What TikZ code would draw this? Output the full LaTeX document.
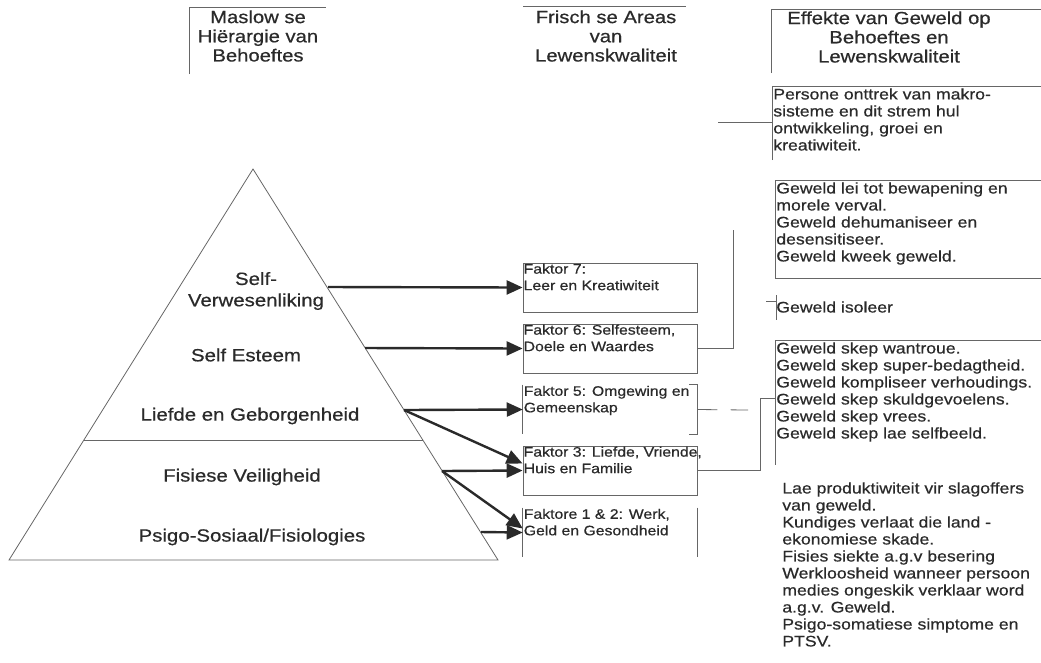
\documentclass[tikz,border=0pt]{standalone}
\usepackage{fontspec}
\setmainfont{Liberation Sans}[FakeStretch=1.15,FakeBold=0.6]
\usetikzlibrary{arrows.meta,calc}

\definecolor{ink}{HTML}{2A2A2A}
\definecolor{rulegray}{HTML}{666666}

\tikzset{
  hdr/.style={align=center, text=ink, inner sep=0pt, font=\fontsize{13.2}{14.4}\selectfont},
  lvl/.style={align=center, text=ink, inner sep=0pt, font=\fontsize{13.3}{16}\selectfont},
  fbox/.style={draw=rulegray, line width=0.6pt, minimum width=130.5pt, minimum height=36.75pt, inner sep=0pt},
  fopen/.style={minimum width=130.5pt, minimum height=36.75pt, inner sep=0pt},
  ftxt/.style={anchor=north west, align=left, text=ink, inner sep=0.6pt, font=\fontsize{10.3}{12.4}\selectfont},
  eff/.style={anchor=north west, align=left, text=ink, inner sep=0.8pt, font=\fontsize{11.5}{12.75}\selectfont},
  thin/.style={draw=rulegray, line width=0.6pt},
  pyarr/.style={draw=ink, line width=1.8pt, -{Triangle[length=12pt,width=10.5pt]}}
}

\begin{document}
\begin{tikzpicture}[x=0.75pt,y=0.75pt,yscale=-1,xscale=1]
\useasboundingbox (0,0) rectangle (1041,662);

% headings
\node[hdr] (h1) at (258,36) {Maslow se\\Hiërargie van\\Behoeftes};
\node[hdr] (h2) at (606,36) {Frisch se Areas\\van\\Lewenskwaliteit};
\node[hdr] (h3) at (889,37) {Effekte van Geweld op\\Behoeftes en\\Lewenskwaliteit};
\draw[thin] (189,74) -- (189,7) -- (326,7);
\draw[thin] (523,6) -- (686,6);
\draw[thin] (771,73) -- (771,9) -- (1041,9);

% pyramid
\coordinate (apex) at (253,169);
\coordinate (bl) at (9,560);
\coordinate (br) at (498,560);
\draw[thin] (apex) -- (br) -- (bl) -- cycle;
\draw[thin] (84,440) -- (423,440);

\node[lvl] (lvl7) at (256,291) {Self-\\Verwesenliking};
\node[lvl] (lvl6) at (246,355) {Self Esteem};
\node[lvl] (lvl5) at (250,416) {Liefde en Geborgenheid};
\node[lvl] (lvl3) at (242,477) {Fisiese Veiligheid};
\node[lvl] (lvl12) at (252,537) {Psigo-Sosiaal/Fisiologies};

\coordinate (e7) at (328,287);
\coordinate (e6) at (365,348);
\coordinate (e5) at (404,410);
\coordinate (e3) at (442,471);
\coordinate (e12) at (481,532);

% Frisch boxes
\node[fbox] (f7) at (610,287.5) {};
\node[fbox] (f6) at (610,348.5) {};
\node[fopen] (f5) at (610,409.5) {};
\node[fbox] (f3) at (610,470.5) {};
\node[fopen] (f12) at (610,532.5) {};
\draw[thin] (f5.north west) -- (f5.south west);
\draw[thin] ($(f5.north east)+(-8,0)$) -- (f5.north east) -- (f5.south east) -- ($(f5.south east)+(-8,0)$);
\draw[thin] (f12.north west) -- (f12.south west);
\draw[thin] (f12.north east) -- (f12.south east);

\node[ftxt] (t7) at (f7.north west) {Faktor 7:\\Leer en Kreatiwiteit};
\node[ftxt] (t6) at (f6.north west) {Faktor 6: Selfesteem,\\Doele en Waardes};
\node[ftxt] (t5) at (f5.north west) {Faktor 5: Omgewing en\\Gemeenskap};
\node[ftxt] (t3) at (f3.north west) {Faktor 3: Liefde, Vriende,\\Huis en Familie};
\node[ftxt] (t12) at (f12.north west) {Faktore 1 \& 2: Werk,\\Geld en Gesondheid};

\draw[pyarr] (e7) -- (f7.west);
\draw[pyarr] (e6) -- (f6.west);
\draw[pyarr] (e5) -- (f5.west);
\draw[pyarr] (e5) -- ($(f3.west)+(0,-7)$);
\draw[pyarr] (e3) -- (f3.west);
\draw[pyarr] (e3) -- ($(f12.west)+(0,-4)$);
\draw[pyarr] (e12) -- (f12.west);

% effects
\node[eff] (r1) at (772,87) {Persone onttrek van makro-\\sisteme en dit strem hul\\ontwikkeling, groei en\\kreatiwiteit.};
\draw[thin] (772,160) -- (772,86) -- (1041,86);
\coordinate (c1) at (718,122);
\draw[thin] (c1) -- (c1 -| r1.west);

\node[eff] (r2) at (775,181) {Geweld lei tot bewapening en\\morele verval.\\Geweld dehumaniseer en\\desensitiseer.\\Geweld kweek geweld.};
\draw[thin] (1041,180) -- (775,180) -- (775,278) -- (1041,278);
\coordinate (c6) at (733,230);
\draw[thin] (f6.east) -| (c6);

\node[eff, anchor=west] (r3) at (775,307) {Geweld isoleer};
\draw[thin] (766,301) -- (776,301);
\draw[thin] (776,295) -- (776,320);

\coordinate (c5) at (748,410);
\draw[thin, dash pattern=on 15pt off 10pt] (f5.east) -- (c5);

\node[eff] (r4) at (775,341) {Geweld skep wantroue.\\Geweld skep super-bedagtheid.\\Geweld kompliseer verhoudings.\\Geweld skep skuldgevoelens.\\Geweld skep vrees.\\Geweld skep lae selfbeeld.};
\draw[thin] (1041,340) -- (775,340) -- (775,465);
\coordinate (c3) at (760,398);
\draw[thin] (f3.east) -| (c3) -- (c3 -| r4.west);

\node[eff] (r5) at (781,481) {Lae produktiwiteit vir slagoffers\\van geweld.\\Kundiges verlaat die land -\\ekonomiese skade.\\Fisies siekte a.g.v besering\\Werkloosheid wanneer persoon\\medies ongeskik verklaar word\\a.g.v. Geweld.\\Psigo-somatiese simptome en\\PTSV.};

\end{tikzpicture}
\end{document}
